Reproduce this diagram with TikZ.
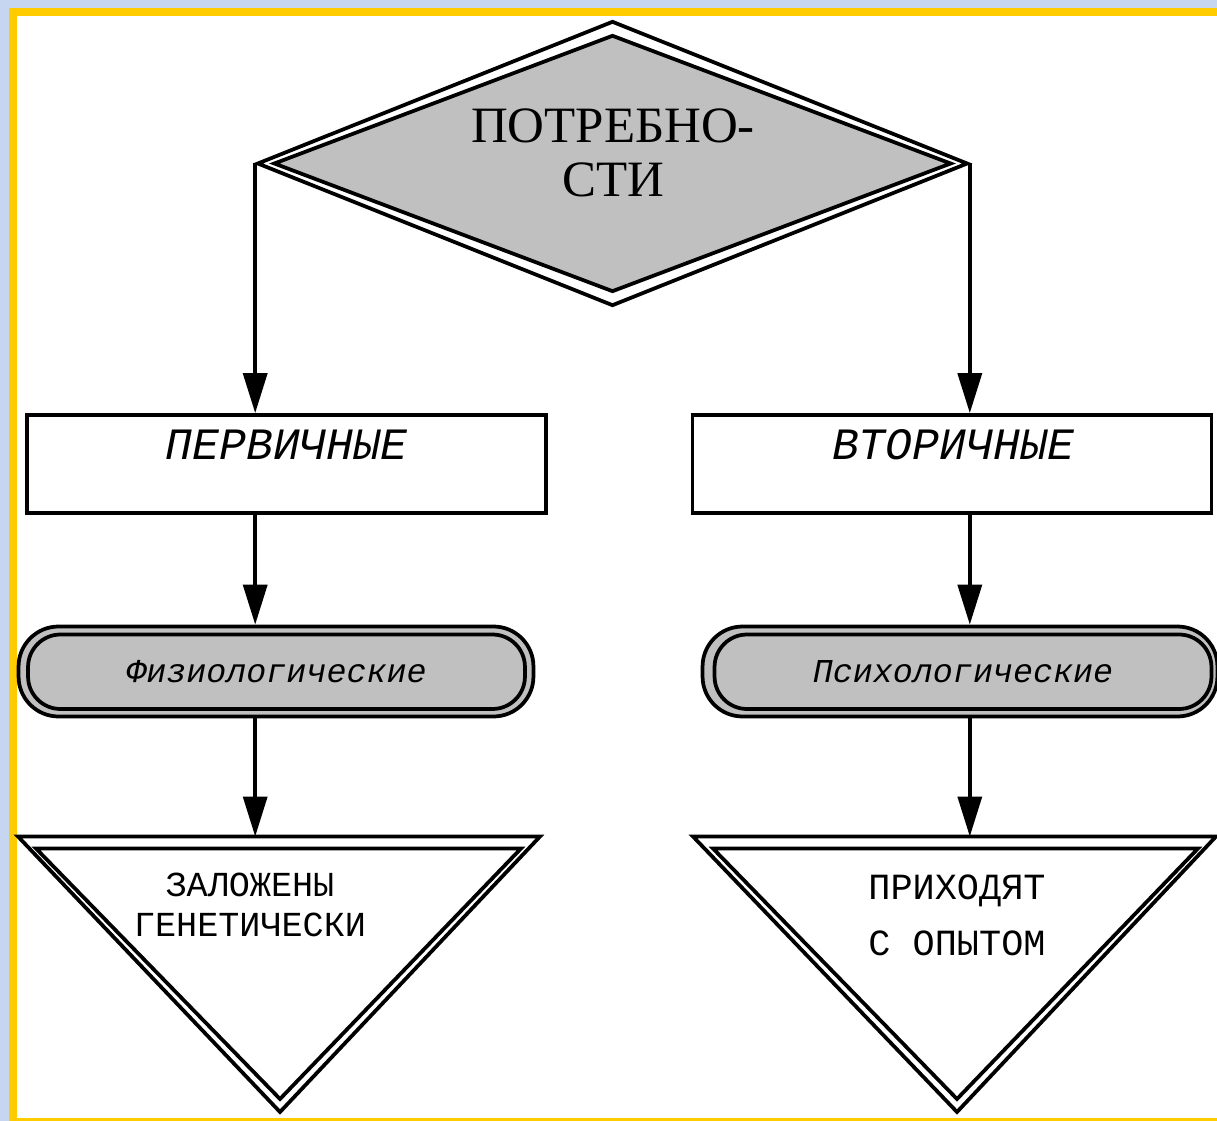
\documentclass[tikz,border=0pt]{standalone}
\usepackage{fontspec}
\setmainfont{Liberation Serif}
\newfontfamily\typefont{Liberation Mono}
\usetikzlibrary{arrows.meta,shapes.geometric}
\definecolor{shade}{RGB}{192,192,192}
\definecolor{paper}{RGB}{198,214,240}
\definecolor{rim}{RGB}{255,204,0}

\begin{document}
\begin{tikzpicture}[x=0.02cm, y=-0.02cm,
  heavy/.style={line width=0.075cm},
  kindbox/.style={draw, heavy, fill=white, minimum width=10.38cm, minimum height=1.96cm, inner sep=0pt},
  kindtext/.style={anchor=base, font=\typefont\itshape\fontsize{25.5}{28}\selectfont},
  capout/.style={draw, heavy, fill=shade, rounded corners=0.8cm, minimum width=10.3cm, minimum height=1.8cm, inner sep=0pt},
  capin/.style={draw, heavy, fill=shade, rounded corners=0.65cm, minimum width=9.94cm, minimum height=1.49cm, inner sep=0pt, font=\typefont\itshape\fontsize{19}{21}\selectfont},
  rhomb/.style={diamond, draw, heavy, inner sep=0pt},
  tri/.style={draw, heavy, line join=miter},
  tritext/.style={align=center},
  link/.style={line width=0.07cm, -{Triangle[length=0.8cm, width=0.48cm]}}]

%frame
\fill[paper] (0,0) rectangle (1217,1121);
\fill[rim] (9,8) rectangle (1217,1121);
\fill[white] (17,16) rectangle (1217,1118);
\useasboundingbox (0,0) rectangle (1217,1121);

%needs
\node[rhomb, fill=white, minimum width=14.22cm, minimum height=5.7cm] (needout) at (612.5,163.5) {};
\node[rhomb, fill=shade, minimum width=13.56cm, minimum height=5.14cm] (need) at (612.5,163.5) {};
\node[align=center, font=\fontsize{29}{30.6}\selectfont] (needtxt) at (613,153) {ПОТРЕБНО-\\СТИ};

%primary / secondary
\node[kindbox] (prim) at (286.5,464) {};
\node[kindtext] (primtxt) at (286.5,460) {ПЕРВИЧНЫЕ};
\node[kindbox] (sec) at (952,464) {};
\node[kindtext] (sectxt) at (953,460) {ВТОРИЧНЫЕ};

%kinds
\node[capout] (physout) at (276,671.5) {};
\node[capin] (phys) at (276.5,671.75) {Физиологические};
\node[capout] (psyout) at (960,671.5) {};
\node[capin] (psy) at (963,671.75) {Психологические};

%origin
\draw[tri, fill=white] (18,836.5) -- (540,836.5) -- (280,1112) -- cycle;
\draw[tri] (36,848.5) -- (521,848.5) -- (280,1099) -- cycle;
\coordinate (genT) at (280,836.5);
\node[tritext, font=\typefont\fontsize{20}{22.7}\selectfont] (gentxt) at (250,905) {ЗАЛОЖЕНЫ\\ГЕНЕТИЧЕСКИ};

\draw[tri, fill=white] (693,836.5) -- (1216,836.5) -- (957,1112) -- cycle;
\draw[tri] (713,848.5) -- (1198,848.5) -- (957,1099) -- cycle;
\coordinate (expT) at (957,836.5);
\node[tritext, font=\typefont\fontsize{21}{31.7}\selectfont] (exptxt) at (957,915) {ПРИХОДЯТ\\С~ОПЫТОМ};

%links
\draw[link] (needout.west) -- (needout.west |- prim.north);
\draw[link] (needout.east) -- (needout.east |- sec.north);
\draw[link] (needout.west |- prim.south) -- (needout.west |- physout.north);
\draw[link] (needout.east |- sec.south) -- (needout.east |- psyout.north);
\draw[link] (needout.west |- physout.south) -- (needout.west |- genT);
\draw[link] (needout.east |- psyout.south) -- (needout.east |- expT);
\end{tikzpicture}
\end{document}
